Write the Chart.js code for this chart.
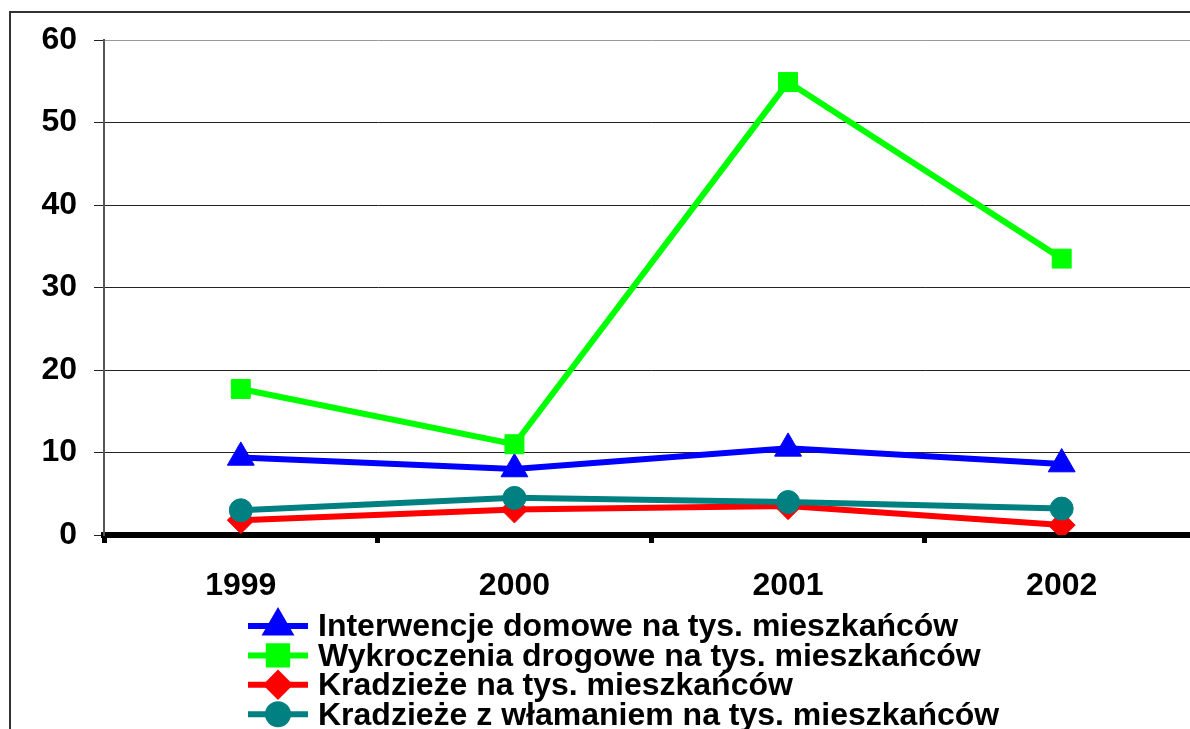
<!DOCTYPE html>
<html>
<head>
<meta charset="utf-8">
<script src="https://cdn.jsdelivr.net/npm/chart.js@4"></script>
<style>
  html, body { margin: 0; padding: 0; background: #fff; overflow: hidden; }
  #chart { position: absolute; left: 0; top: 0; }
</style>
</head>
<body>
<canvas id="chart" width="1215" height="729"></canvas>
<script>
// Data
const years = ['1999', '2000', '2001', '2002'];
const interwencje = [9.4, 8.0, 10.5, 8.6];
const wykroczenia = [17.7, 11.0, 54.9, 33.5];
const kradzieze = [1.8, 3.1, 3.5, 1.2];
const wlamania = [3.0, 4.5, 4.0, 3.2];
const yTicks = [0, 10, 20, 30, 40, 50, 60];

const labels = [
    'Interwencje domowe na tys. mieszkańców',
    'Wykroczenia drogowe na tys. mieszkańców',
    'Kradzieże na tys. mieszkańców',
    'Kradzieże z włamaniem na tys. mieszkańców'
];

Chart.defaults.font.family = '"Liberation Sans", Arial, sans-serif';
Chart.defaults.font.weight = 'bold';
Chart.defaults.color = '#000';

// Frame round the chart and the legend drawn below it
const framePlugin = {
    id: 'frame',
    beforeDraw(chart) {
        const ctx = chart.ctx;
        ctx.save();
        ctx.strokeStyle = '#333';
        ctx.lineWidth = 2;
        ctx.beginPath();
        ctx.moveTo(10, 740);
        ctx.lineTo(10, 12);
        ctx.lineTo(1300, 12);
        ctx.stroke();
        ctx.restore();
    },
    afterDraw(chart) {
        const ctx = chart.ctx;
        ctx.save();
        ctx.font = 'bold 32px "Liberation Sans", Arial, sans-serif';
        ctx.textBaseline = 'middle';
        chart.data.datasets.forEach((ds, i) => {
            const y = 626 + i * 29.4;
            ctx.strokeStyle = ds.borderColor;
            ctx.lineWidth = 6;
            ctx.beginPath();
            ctx.moveTo(248, y);
            ctx.lineTo(308, y);
            ctx.stroke();
            ctx.fillStyle = ds.backgroundColor;
            ctx.strokeStyle = ds.borderColor;
            Chart.helpers.drawPoint(ctx, {
                pointStyle: ds.pointStyle,
                radius: ds.legendRadius,
                rotation: 0,
                borderWidth: 1
            }, 278, y);
            ctx.fillStyle = '#000';
            ctx.fillText(ds.label, 318, y + 1.5);
        });
        ctx.restore();
    }
};

function makeSet(label, data, color, style, radius, legendRadius, order) {
    return {
        label: label,
        data: data,
        borderColor: color,
        backgroundColor: color,
        borderWidth: 6,
        pointStyle: style,
        pointRadius: radius,
        pointHoverRadius: radius,
        pointBorderWidth: 1,
        legendRadius: legendRadius,
        tension: 0,
        order: order
    };
}

const ctx = document.getElementById('chart').getContext('2d');
new Chart(ctx, {
    type: 'line',
    data: {
        labels: years,
        datasets: [
            makeSet(labels[0], interwencje, '#0000ff', 'triangle', 15.5, 13, 3),
            makeSet(labels[1], wykroczenia, '#00ff00', 'rect', 13.4, 13, 2),
            makeSet(labels[2], kradzieze, '#ff0000', 'rectRot', 13.5, 11, 1),
            makeSet(labels[3], wlamania, '#008080', 'circle', 11.5, 10, 0)
        ]
    },
    options: {
        responsive: false,
        animation: false,
        layout: { padding: { left: 0, right: 4, top: 40, bottom: 0 } },
        plugins: {
            legend: { display: false },
            tooltip: { enabled: false }
        },
        scales: {
            x: {
                offset: true,
                afterFit: s => { s.height = 194; },
                grid: {
                    offset: true,
                    drawOnChartArea: false,
                    tickLength: 8,
                    tickWidth: 5,
                    tickColor: '#000'
                },
                border: { color: '#000', width: 6 },
                ticks: { font: { size: 32, weight: 'bold' }, padding: 24, color: '#000' }
            },
            y: {
                min: 0,
                max: 60,
                afterFit: s => { s.width = 104; },
                afterBuildTicks: s => { s.ticks = yTicks.map(v => ({ value: v })); },
                grid: {
                    color: c => (c.tick && c.tick.value === 60) ? '#999' : '#222',
                    lineWidth: 1,
                    tickLength: 10,
                    tickColor: '#222'
                },
                border: { color: '#555', width: 2 },
                ticks: { font: { size: 32, weight: 'bold' }, padding: 17, color: '#000' }
            }
        }
    },
    plugins: [framePlugin]
});
</script>
</body>
</html>
